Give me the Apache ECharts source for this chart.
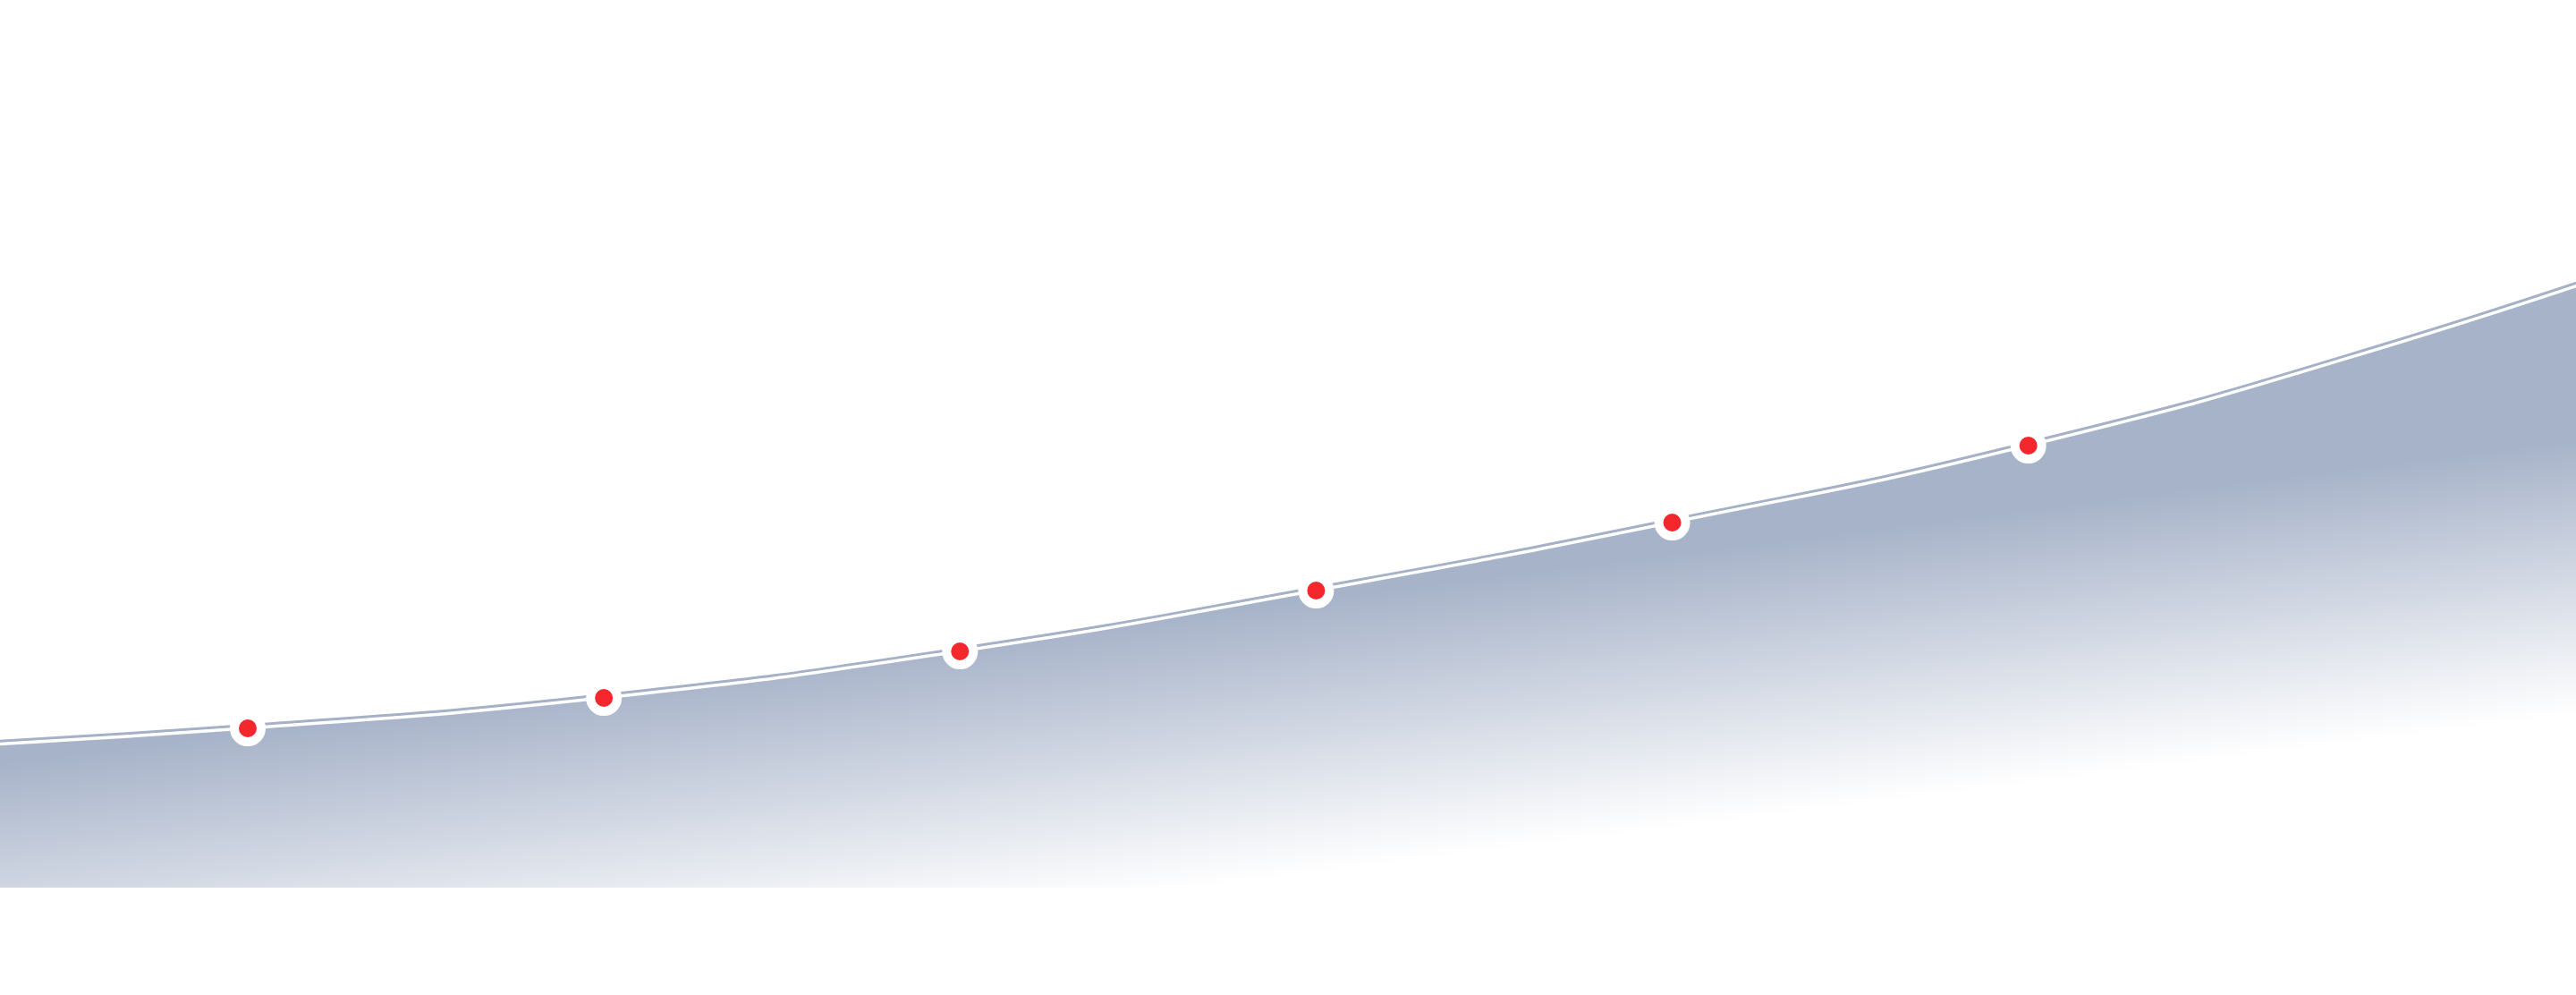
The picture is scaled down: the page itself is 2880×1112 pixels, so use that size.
<!DOCTYPE html>
<html>
<head>
<meta charset="utf-8">
<script src="https://cdn.jsdelivr.net/npm/echarts@6/dist/echarts.min.js"></script>
<style>
  html, body { margin: 0; padding: 0; background: #ffffff; }
  #chart { width: 2880px; height: 1112px; }
</style>
</head>
<body>
<div id="chart"></div>
<script>
// x positions (category index) and values
const xValues = [0, 1, 2, 3, 4, 5, 6, 7, 8];
const yValues = [154, 178, 212, 264, 332, 408, 494, 604, 735];
const symbolShown = [false, true, true, true, true, true, true, false, false];

const seriesData = xValues.map(function (x, i) {
  return {
    value: [x, yValues[i]],
    symbol: symbolShown[i] ? 'circle' : 'none'
  };
});

const chart = echarts.init(document.getElementById('chart'), null, { renderer: 'canvas' });
chart.setOption({
  backgroundColor: '#ffffff',
  animation: false,
  grid: { left: 2, right: 2, top: 92, bottom: 120, containLabel: false },
  xAxis: {
    type: 'value',
    min: 0.3093,
    max: 7.5329,
    show: false
  },
  yAxis: {
    type: 'value',
    min: 0,
    max: 900,
    show: false
  },
  series: [{
    type: 'line',
    data: seriesData,
    smooth: 0.5,
    clip: true,
    symbolSize: 30,
    itemStyle: {
      color: '#f4272c',
      borderColor: '#ffffff',
      borderWidth: 10
    },
    lineStyle: {
      color: '#ffffff',
      width: 3,
      shadowColor: '#a5b1c7',
      shadowBlur: 0,
      shadowOffsetY: -3.5
    },
    areaStyle: {
      opacity: 1,
      color: {
        type: 'linear',
        global: true,
        x: 1400, y: 677, x2: 1438, y2: 980,
        colorStops: [
          { offset: 0, color: 'rgba(167,179,201,1)' },
          { offset: 1, color: 'rgba(167,179,201,0)' }
        ]
      }
    }
  }]
});
</script>
</body>
</html>
